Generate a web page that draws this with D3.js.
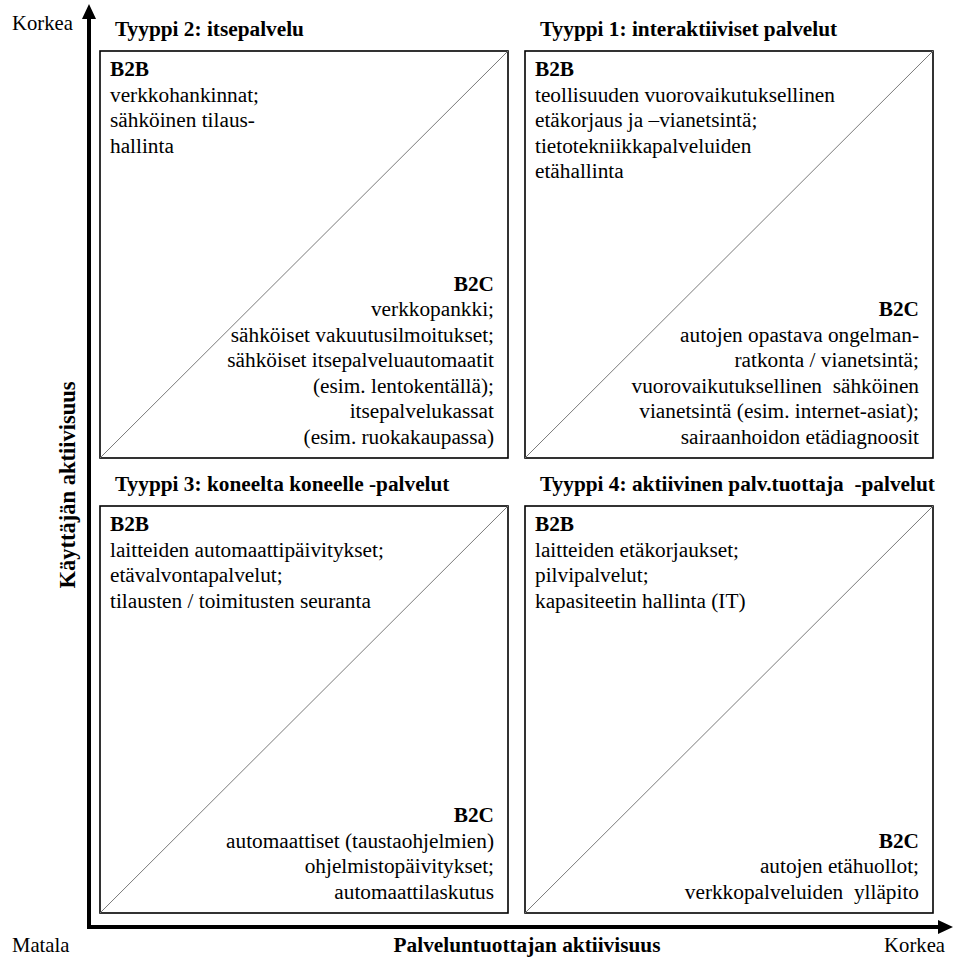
<!DOCTYPE html>
<html><head><meta charset="utf-8">
<script src="https://cdn.jsdelivr.net/npm/d3@7"></script>
<style>body{margin:0;background:#fff}svg{display:block}</style>
</head><body>
<svg id="c" width="954" height="960"></svg>
<script>
const columns = ["low", "high"];
const rows = ["high", "low"];
const quadrantCol = ["low", "high", "low", "high"];
const quadrantRow = ["high", "high", "low", "low"];
const titles = ["Tyyppi 2: itsepalvelu", "Tyyppi 1: interaktiiviset palvelut", "Tyyppi 3: koneelta koneelle -palvelut", "Tyyppi 4: aktiivinen palv.tuottaja\u00a0 -palvelut"];
const b2bLines = [
  ["verkkohankinnat;", "sähköinen tilaus-", "hallinta"],
  ["teollisuuden vuorovaikutuksellinen", "etäkorjaus ja –vianetsintä;", "tietotekniikkapalveluiden", "etähallinta"],
  ["laitteiden automaattipäivitykset;", "etävalvontapalvelut;", "tilausten / toimitusten seuranta"],
  ["laitteiden etäkorjaukset;", "pilvipalvelut;", "kapasiteetin hallinta (IT)"]
];
const b2cLines = [
  ["verkkopankki;", "sähköiset vakuutusilmoitukset;", "sähköiset itsepalveluautomaatit", "(esim. lentokentällä);", "itsepalvelukassat", "(esim. ruokakaupassa)"],
  ["autojen opastava ongelman-", "ratkonta / vianetsintä;", "vuorovaikutuksellinen\u00a0 sähköinen", "vianetsintä (esim. internet-asiat);", "sairaanhoidon etädiagnoosit"],
  ["automaattiset (taustaohjelmien)", "ohjelmistopäivitykset;", "automaattilaskutus"],
  ["autojen etähuollot;", "verkkopalveluiden\u00a0 ylläpito"]
];
const xAxisTitle = "Palveluntuottajan aktiivisuus";
const yAxisTitle = "Käyttäjän aktiivisuus";
const lowLabel = "Matala";
const highLabel = "Korkea";

const FF = "Liberation Serif";
const svg = d3.select("#c");
const x = d3.scaleBand().domain(columns).range([100, 933]).paddingInner(0.04);
const y = d3.scaleBand().domain(rows).range([51, 913]).paddingInner(0.1055);
const lh = 25.5, fs = 21.3;

const data = titles.map((t, i) => ({title: t, col: quadrantCol[i], row: quadrantRow[i], b2b: b2bLines[i], b2c: b2cLines[i]}));

const g = svg.selectAll("g.q").data(data).join("g").attr("class", "q")
  .attr("transform", d => `translate(${x(d.col)},${y(d.row)})`);
const bw = x.bandwidth(), bh = y.bandwidth();

g.append("rect").attr("width", bw).attr("height", bh)
  .attr("fill", "#fff").attr("stroke", "#000").attr("stroke-width", 1.6);
g.append("line").attr("x1", 0).attr("y1", bh).attr("x2", bw).attr("y2", 0)
  .attr("stroke", "#7a7a7a").attr("stroke-width", 1);
g.append("text").attr("x", 15).attr("y", -15).text(d => d.title)
  .attr("font-family", FF).attr("font-weight", "bold").attr("font-size", fs);

// B2B block
const tb = g.append("text").attr("font-family", FF).attr("font-size", fs);
tb.append("tspan").attr("x", 10).attr("y", 25).attr("font-weight", "bold").text("B2B");
tb.selectAll("tspan.l").data(d => d.b2b).join("tspan").attr("class", "l")
  .attr("x", 10).attr("y", (d, i) => 25 + lh * (i + 1)).text(d => d);

// B2C block (right aligned, bottom anchored)
const tc = g.append("text").attr("font-family", FF).attr("font-size", fs).attr("text-anchor", "end");
tc.append("tspan").attr("x", bw - 14).attr("y", d => bh - 14 - lh * d.b2c.length).attr("font-weight", "bold").text("B2C");
tc.each(function(d) {
  d3.select(this).selectAll("tspan.l").data(d.b2c).join("tspan").attr("class", "l")
    .attr("x", bw - 14).attr("y", (s, i) => bh - 14 - lh * (d.b2c.length - 1 - i)).text(s => s);
});

// Axes
const axX = 89, axY = 927;
svg.append("line").attr("x1", axX).attr("y1", axY + 2).attr("x2", axX).attr("y2", 16)
  .attr("stroke", "#000").attr("stroke-width", 4);
svg.append("line").attr("x1", axX - 2).attr("y1", axY).attr("x2", 942).attr("y2", axY)
  .attr("stroke", "#000").attr("stroke-width", 4);
svg.append("path").attr("d", `M${axX},4 L${axX + 7},19 L${axX - 7},19 Z`).attr("fill", "#000");
svg.append("path").attr("d", `M953,${axY} L938,${axY - 7} L938,${axY + 7} Z`).attr("fill", "#000");

svg.append("text").attr("x", 12).attr("y", 30).text(highLabel).attr("font-family", FF).attr("font-size", 20.7);
svg.append("text").attr("x", 12).attr("y", 952).text(lowLabel).attr("font-family", FF).attr("font-size", 20.7);
svg.append("text").attr("x", 945).attr("y", 952).attr("text-anchor", "end").text(highLabel).attr("font-family", FF).attr("font-size", 20.7);
svg.append("text").attr("x", 527).attr("y", 952).attr("text-anchor", "middle").text(xAxisTitle)
  .attr("font-family", FF).attr("font-size", fs).attr("font-weight", "bold");
svg.append("text").attr("transform", "translate(75,485) rotate(-90)").attr("text-anchor", "middle").text(yAxisTitle)
  .attr("font-family", FF).attr("font-size", 22.5).attr("font-weight", "bold");
</script>
</body></html>
